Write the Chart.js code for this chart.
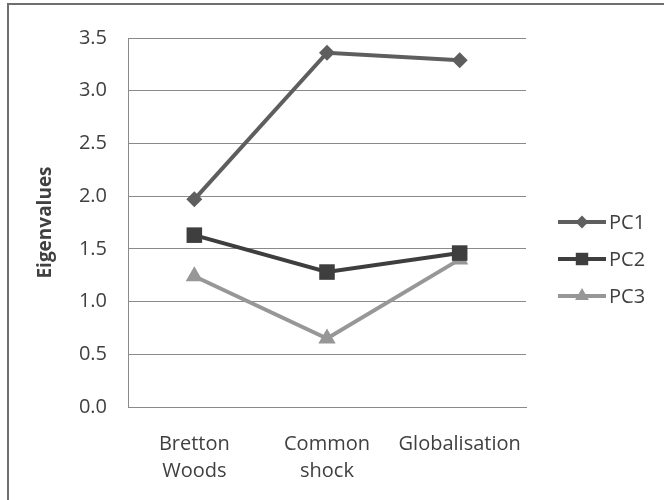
<!DOCTYPE html>
<html>
<head>
<meta charset="utf-8">
<script src="https://cdn.jsdelivr.net/npm/chart.js@4/dist/chart.umd.min.js"></script>
<style>
  html, body { margin: 0; padding: 0; background: #ffffff; }
  #wrap { width: 664px; height: 500px; }
</style>
</head>
<body>
<div id="wrap"><canvas id="chart" width="664" height="500"></canvas></div>
<script>
// Periods compared
const categories = [['Bretton', 'Woods'], ['Common', 'shock'], ['Globalisation']];
// Eigenvalues of the first three principal components
const pc1 = [1.97, 3.36, 3.29];
const pc2 = [1.63, 1.28, 1.46];
const pc3 = [1.24, 0.65, 1.40];
const seriesNames = ['PC1', 'PC2', 'PC3'];
const yTicks = [0, 0.5, 1.0, 1.5, 2.0, 2.5, 3.0, 3.5];

const FONT = "'Open Sans', 'Noto Sans', sans-serif";
const TEXT = '#404040';
const GRID = '#8a8a8a';

// Outer frame of the figure
const framePlugin = {
  id: 'frame',
  beforeDraw(chart) {
    const ctx = chart.ctx;
    ctx.save();
    ctx.fillStyle = '#ffffff';
    ctx.fillRect(0, 0, chart.width, chart.height);
    ctx.strokeStyle = '#6e6e6e';
    ctx.lineWidth = 2;
    ctx.strokeRect(8, 4, chart.width + 20, chart.height + 20);
    ctx.restore();
  }
};

// Legend entries drawn as a short line carrying the series marker
function legendDraw(chart) {
  const ctx = chart.ctx;
  const x0 = chart.chartArea.right + 32;
  const x1 = x0 + 48;
  const yStart = 222, step = 37;
  chart.data.datasets.forEach((ds, i) => {
    const y = yStart + i * step;
    ctx.save();
    ctx.strokeStyle = ds.borderColor;
    ctx.lineWidth = ds.borderWidth;
    ctx.beginPath();
    ctx.moveTo(x0, y);
    ctx.lineTo(x1, y);
    ctx.stroke();
    ctx.fillStyle = ds.pointBackgroundColor;
    ctx.strokeStyle = ds.pointBackgroundColor;
    Chart.helpers.drawPoint(ctx, {
      pointStyle: ds.pointStyle,
      radius: ds.pointRadius * 0.8,
      rotation: 0,
      borderWidth: 0
    }, (x0 + x1) / 2, y);
    ctx.fillStyle = TEXT;
    ctx.font = '20px ' + FONT;
    ctx.textAlign = 'left';
    ctx.textBaseline = 'middle';
    ctx.fillText(ds.label, x1 + 3, y + 1);
    ctx.restore();
  });
}

const legendPlugin = { id: 'legendLines', afterDraw: legendDraw };

const colors = ['#5e5e5e', '#3e3e3e', '#979797'];
const styles = ['rectRot', 'rect', 'triangle'];
const radii = [8, 11, 10];
const values = [pc1, pc2, pc3];

new Chart(document.getElementById('chart'), {
  type: 'line',
  data: {
    labels: categories,
    datasets: values.map((v, i) => ({
      label: seriesNames[i],
      data: v,
      borderColor: colors[i],
      backgroundColor: colors[i],
      pointBackgroundColor: colors[i],
      pointBorderColor: colors[i],
      pointBorderWidth: 0,
      borderWidth: 4,
      pointStyle: styles[i],
      pointRadius: radii[i],
      pointHoverRadius: radii[i],
      tension: 0,
      fill: false
    }))
  },
  options: {
    responsive: false,
    animation: false,
    devicePixelRatio: 1,
    layout: { padding: { left: 0, top: 38, right: 138, bottom: 0 } },
    plugins: {
      legend: { display: false },
      tooltip: { enabled: false }
    },
    scales: {
      x: {
        offset: true,
        grid: { display: false, drawTicks: false },
        border: { display: true, color: GRID, width: 1 },
        ticks: {
          color: TEXT,
          font: { family: FONT, size: 20, lineHeight: 1.33 },
          padding: 24,
          maxRotation: 0,
          autoSkip: false
        },
        afterFit(scale) { scale.height = 93; }
      },
      y: {
        min: 0,
        max: 3.5,
        afterBuildTicks(scale) { scale.ticks = yTicks.map(v => ({ value: v })); },
        grid: { color: GRID, lineWidth: 1, drawTicks: false },
        border: { display: true, color: GRID, width: 1 },
        ticks: {
          color: TEXT,
          font: { family: FONT, size: 20 },
          padding: 21,
          callback: v => Number(v).toFixed(1)
        },
        title: {
          display: true,
          text: 'Eigenvalues',
          color: TEXT,
          font: { family: FONT, size: 19, weight: 'bold' },
          padding: { top: 34, bottom: 0 }
        },
        afterFit(scale) { scale.width = 128; }
      }
    }
  },
  plugins: [framePlugin, legendPlugin]
});
</script>
</body>
</html>
